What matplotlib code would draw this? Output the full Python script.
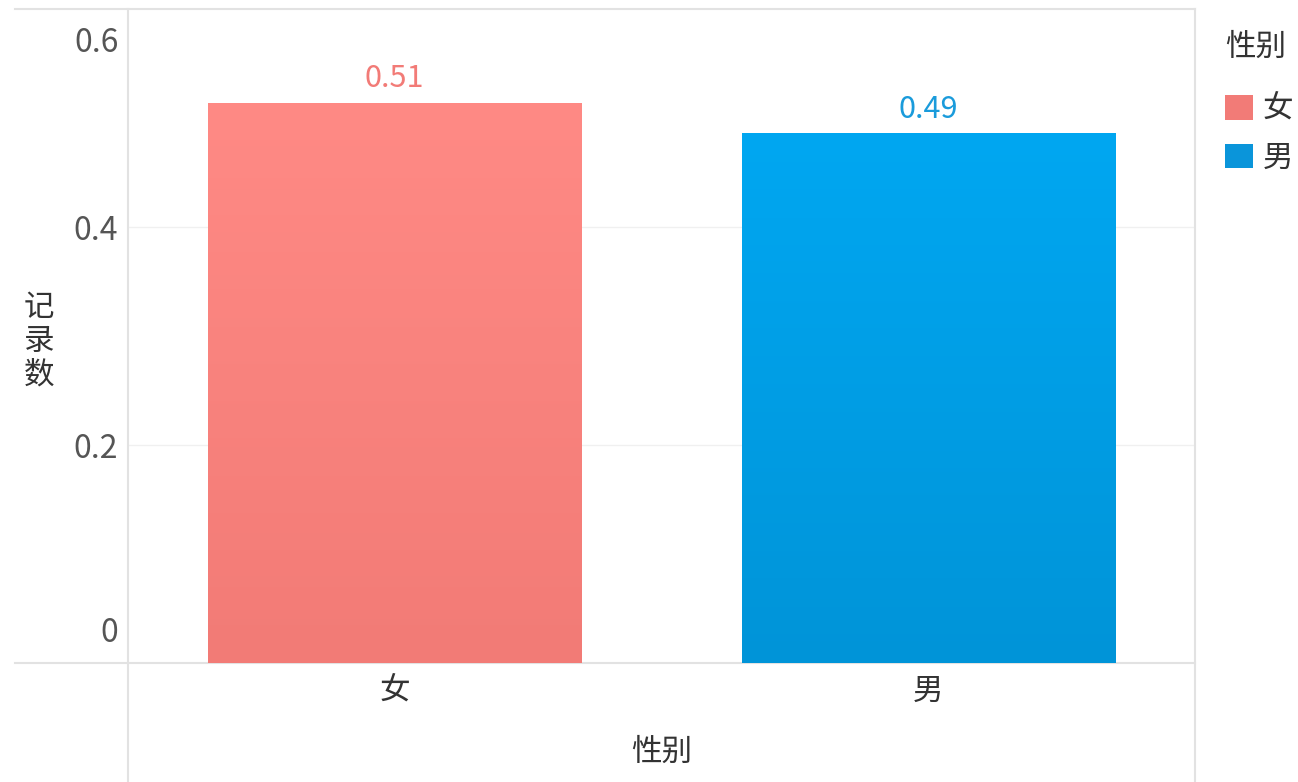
import numpy as np
import matplotlib
matplotlib.use('Agg')
import matplotlib.pyplot as plt
import matplotlib.transforms as mtransforms
from matplotlib.patches import Patch
from matplotlib.colors import LinearSegmentedColormap

plt.rcParams['font.family'] = ['Noto Sans CJK SC', 'DejaVu Sans']

# data
genders = ['女', '男']
values = [0.514, 0.486]
yticks = [0, 0.2, 0.4, 0.6]
ytick_labels = ['0', '0.2', '0.4', '0.6']

# colours (top, bottom) of each bar's gradient
grad = [('#FF8A85', '#F27B76'), ('#00A7F1', '#0094D8')]
label_colors = ['#F27B77', '#1A9BDB']
legend_colors = ['#F27B77', '#0A95DA']

fig = plt.figure(figsize=(12.98, 7.82), dpi=100)
ax = fig.add_axes([128 / 1298, (782 - 663) / 782, (1195 - 128) / 1298, (663 - 9) / 782])

x = np.arange(len(genders))
bars = ax.bar(x, values, width=0.7, color='none', edgecolor='none')

# vertical gradient inside each bar
for b, (top, bot) in zip(bars, grad):
    cmap = LinearSegmentedColormap.from_list('g', [bot, top])
    x0, y0 = b.get_x(), b.get_y()
    w, h = b.get_width(), b.get_height()
    img = ax.imshow(np.linspace(0, 1, 256).reshape(-1, 1), cmap=cmap, aspect='auto',
                    origin='lower', extent=[x0, x0 + w, y0, y0 + h], zorder=2)
    img.set_clip_path(b)
ax.set_xlim(-0.5, len(genders) - 0.5)
ax.set_ylim(0, 0.6)

# value labels
for b, v, c in zip(bars, values, label_colors):
    ax.annotate(f'{v:.2f}', (b.get_x() + b.get_width() / 2, v), xytext=(0, 6),
                textcoords='offset points', ha='center', va='bottom',
                fontsize=22, color=c)

# grid / frame
for s in ax.spines.values():
    s.set_visible(False)
for yv in yticks[1:-1]:
    ax.axhline(yv, color='#F0F0F0', lw=1, zorder=0)
line_kw = dict(color='#E2E2E2', lw=1.5, clip_on=False, zorder=1)
ax.plot([-0.106, 1], [0, 0], transform=ax.get_yaxis_transform(), **line_kw)
ax.plot([-0.106, 1], [0.6, 0.6], transform=ax.get_yaxis_transform(), **line_kw)
ax.plot([0, 0], [-0.183, 1], transform=ax.transAxes, **line_kw)
ax.plot([1, 1], [-0.183, 1], transform=ax.transAxes, **line_kw)

# ticks
ax.set_yticks(yticks)
ax.set_yticklabels(ytick_labels, fontsize=23, color='#555555')
ax.tick_params(axis='y', length=0, pad=7)
ax.set_xticks(x)
ax.set_xticklabels(genders, fontsize=22, color='#333333')
ax.tick_params(axis='x', length=0, pad=9)
labs = ax.get_yticklabels()
labs[0].set_transform(labs[0].get_transform() +
                      mtransforms.ScaledTranslation(0, 33 / 100, fig.dpi_scale_trans))
labs[-1].set_transform(labs[-1].get_transform() +
                       mtransforms.ScaledTranslation(0, -30 / 100, fig.dpi_scale_trans))

ax.set_xlabel('性别', fontsize=22, color='#333333', labelpad=22)
fig.text(39 / 1298, 1 - 341 / 782, '记\n录\n数', fontsize=22, color='#333333',
         ha='center', va='center', linespacing=1.12)

# legend
fig.text(1225 / 1298, 1 - 47 / 782, '性别', fontsize=22, color='#333333',
         ha='left', va='center')
handles = [Patch(facecolor=c, edgecolor='none') for c in legend_colors]
leg = fig.legend(handles, genders, loc='upper left',
                 bbox_to_anchor=(1225 / 1298, 1 - 94 / 782), frameon=False,
                 fontsize=22, handlelength=0.92, handleheight=0.85,
                 handletextpad=0.3, labelspacing=0.58, borderaxespad=0, borderpad=0)
for t in leg.get_texts():
    t.set_color('#333333')

fig.savefig('out.png', dpi=100)
